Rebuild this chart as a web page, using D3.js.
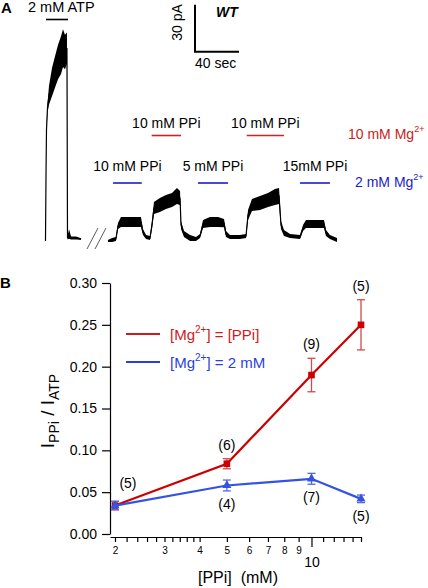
<!DOCTYPE html>
<html><head><meta charset="utf-8">
<script src="https://cdn.jsdelivr.net/npm/d3@7"></script>
<style>
html,body{margin:0;padding:0;background:#fff;}
svg{display:block;font-family:"Liberation Sans",Arial,Helvetica,sans-serif;}
text{white-space:pre;}
</style></head><body>
<svg id="chart" width="428" height="588"></svg>
<script>
// ---------- Panel A data (time in s, current in pA) ----------
const atpTime    = [5.0, 5.5, 5.9, 6.8, 8.2, 10.9, 13.6, 16.4, 19.1, 20.9, 22.7, 24.5, 25.0, 26.4, 28.2, 32.7, 37.3];
const atpCurrent = [-0.6, 44.7, 70.2, 84.2, 92.5, 100.8, 107.2, 113.6, 118, 122.5, 120, 122.5, 1.3, 3.8, 1.3, 1.3, 0.6];
const atpNoise   = [0.5, 1, 1.5, 3, 6, 9, 10, 11, 12, 12, 11, 10, 1, 3, 1, 1, 0.5];

const ppiTime = [61.8, 65.5, 69, 70.9, 73.6, 81.8, 91.8, 93.6, 96.4, 100, 101.8, 103.6, 109, 114.5, 120, 124.5, 127.3, 128.2, 130.9, 136.4, 141.8, 145.5, 148.2, 154.5, 161.8, 167.3, 169.1, 172.7, 181.8, 187.3, 189.1, 192.7, 200, 207.3, 213.6, 217.3, 219.1, 221.8, 227.3, 236.4, 239.1, 241.8, 249.1, 258.2, 260, 263.6, 270];
const ppiCurrent = [-0.6, 0, 0.6, 8.9, 11.5, 11.5, 11.5, 5.1, 1.9, 1.3, 9.6, 20.4, 22.3, 24.3, 25.5, 28.1, 26.8, 9.6, 3.8, 1.3, 0.6, 2.6, 10.2, 11.5, 11.5, 10.8, 3.8, 1.9, 1.9, 2.6, 16, 22.3, 23.6, 25.5, 27.4, 28.1, 9.6, 4.5, 2.6, 1.9, 7.7, 10.2, 10.2, 10.2, 4.5, 1.9, 0];
const ppiNoise   = [0.6, 1.3, 1.3, 1.9, 3.2, 3.2, 3.2, 1.9, 1.3, 1.3, 2.6, 3.8, 4.5, 4.5, 4.5, 5.1, 4.5, 2.6, 1.9, 1.9, 1.3, 1.3, 2.6, 3.2, 3.2, 2.6, 1.9, 1.3, 1.3, 1.3, 3.2, 3.8, 4.5, 4.5, 5.1, 5.1, 2.6, 1.9, 1.3, 1.3, 1.9, 2.6, 2.6, 2.6, 1.9, 1.3, 1.3];

const atpBar = [5.5, 25.5];
const redApps   = [{label: "10 mM PPi", t0: 101.5, t1: 128.2}, {label: "10 mM PPi", t0: 187.9, t1: 221.8}];
const blueApps  = [{label: "10 mM PPi", t0: 66.4, t1: 92.5}, {label: "5 mM PPi", t0: 143.6, t1: 170.9}, {label: "15mM PPi", t0: 236.4, t1: 263.6}];
const scaleBarTime = 40, scaleBarCurrent = 30;

// ---------- Panel B data ----------
const concPPi   = [2, 5, 10, 15];
const ratioEq   = [0.034, 0.084, 0.190, 0.250];
const errEq     = [0.005, 0.006, 0.020, 0.030];
const nEq       = ["(5)", "(6)", "(9)", "(5)"];
const ratioMg2  = [0.034, 0.058, 0.066, 0.042];
const errMg2    = [0.005, 0.0065, 0.0065, 0.0045];
const nMg2      = [null, "(4)", "(7)", "(5)"];
const yTicks    = [0, 0.05, 0.10, 0.15, 0.20, 0.25, 0.30];
const xLabeledSmall = [2, 3, 4, 5, 6, 7, 8, 9];
const xMinor    = [2.2, 2.4, 2.6, 2.8, 3.2, 3.4, 3.6, 3.8, 11, 12, 13, 14, 15];
const xMajor    = [10];

const RED = "#cc0000", RED_ERR = "#d24a4a", BLUE = "#3353e2", BLUE_ERR = "#4f6ae6";
const RED_TXT = "#cc2020", BLUE_TXT = "#1c1cc8";

const svg = d3.select("#chart");

// ================= Panel A =================
svg.append("text").attr("x", 1).attr("y", 13).attr("font-size", 15).attr("font-weight", "bold").text("A");

const xA = d3.scaleLinear().domain([0, 40]).range([40, 84]);
const yA = d3.scaleLinear().domain([0, 30]).range([240, 193]);

function drawTrace(t, I, hw) {
  const pts = t.map((d, i) => ({t: d, I: I[i], hw: hw[i]}));
  svg.append("path").datum(pts)
    .attr("d", d3.area().x(d => xA(d.t)).y0(d => yA(d.I - d.hw)).y1(d => yA(d.I + d.hw)))
    .attr("fill", "#000");
  svg.append("path").datum(pts)
    .attr("d", d3.line().x(d => xA(d.t)).y(d => yA(d.I)))
    .attr("fill", "none").attr("stroke", "#000").attr("stroke-width", 1.2);
}
drawTrace(atpTime, atpCurrent, atpNoise);
drawTrace(ppiTime, ppiCurrent, ppiNoise);

// break marks
svg.append("line").attr("x1", 87).attr("y1", 249).attr("x2", 98).attr("y2", 228).attr("stroke", "#333").attr("stroke-width", 0.8);
svg.append("line").attr("x1", 95).attr("y1", 249).attr("x2", 106).attr("y2", 228).attr("stroke", "#333").attr("stroke-width", 0.8);

// ATP bar + label
svg.append("line").attr("x1", xA(atpBar[0])).attr("x2", xA(atpBar[1])).attr("y1", 19.5).attr("y2", 19.5).attr("stroke", "#000").attr("stroke-width", 1.6);
svg.append("text").attr("x", 28).attr("y", 12).attr("font-size", 14.5).text("2 mM ATP");

// application bars
redApps.forEach(a => {
  svg.append("line").attr("x1", xA(a.t0)).attr("x2", xA(a.t1)).attr("y1", 135.5).attr("y2", 135.5).attr("stroke", "#d42020").attr("stroke-width", 1.6);
  svg.append("text").attr("x", (xA(a.t0) + xA(a.t1)) / 2).attr("y", 128).attr("text-anchor", "middle").attr("font-size", 14).text(a.label);
});
blueApps.forEach(a => {
  svg.append("line").attr("x1", xA(a.t0)).attr("x2", xA(a.t1)).attr("y1", 183).attr("y2", 183).attr("stroke", "#1c1cd0").attr("stroke-width", 1.6);
  svg.append("text").attr("x", (xA(a.t0) + xA(a.t1)) / 2).attr("y", 171).attr("text-anchor", "middle").attr("font-size", 14).text(a.label);
});

function mgLabel(x, yb, num, color) {
  const t = svg.append("text").attr("x", x).attr("y", yb).attr("font-size", 14).attr("fill", color);
  t.append("tspan").text(num + " mM Mg");
  t.append("tspan").attr("font-size", 9).attr("dy", -7).text("2+");
}
mgLabel(348, 139, "10", RED_TXT);
mgLabel(355, 187, "2", BLUE_TXT);

// scale bar
const sbX = 195, sbY = 51.7;
svg.append("path")
  .attr("d", `M${sbX},${sbY - (yA(0) - yA(scaleBarCurrent))}V${sbY}H${sbX + (xA(scaleBarTime) - xA(0))}`)
  .attr("fill", "none").attr("stroke", "#000").attr("stroke-width", 2);
svg.append("text").attr("transform", `translate(182,22.5) rotate(-90)`).attr("text-anchor", "middle").attr("font-size", 14).text("30 pA");
svg.append("text").attr("x", 195).attr("y", 68).attr("font-size", 14).text("40 sec");
svg.append("text").attr("x", 216).attr("y", 17).attr("font-size", 14).attr("font-weight", "bold").attr("font-style", "italic").text("WT");

// ================= Panel B =================
svg.append("text").attr("x", 0).attr("y", 288).attr("font-size", 15).attr("font-weight", "bold").text("B");

const x = d3.scaleLog().domain([1.92, 15]).range([110, 361]);
const y = d3.scaleLinear().domain([0, 0.30]).range([534, 283]);

const gy = svg.append("g").attr("transform", "translate(110,0)")
  .call(d3.axisLeft(y).tickValues(yTicks).tickSize(8).tickPadding(5).tickSizeOuter(0).tickFormat(d3.format(".2f")));
gy.selectAll("text").attr("font-size", 14).attr("font-family", "Liberation Sans, Arial, sans-serif").attr("fill", "#000");
gy.selectAll("line,path").attr("stroke", "#000").attr("stroke-width", 1.2);

const gx = svg.append("g").attr("transform", "translate(0,537)")
  .call(d3.axisBottom(x).tickValues(xLabeledSmall.concat(xMinor)).tickSize(5).tickPadding(5).tickSizeOuter(0)
    .tickFormat(d => xLabeledSmall.includes(d) ? String(d) : ""));
gx.selectAll("text").attr("font-size", 10).attr("font-family", "Liberation Sans, Arial, sans-serif").attr("fill", "#000");
gx.selectAll("line,path").attr("stroke", "#000").attr("stroke-width", 1.2);

const gx2 = svg.append("g").attr("transform", "translate(0,537)")
  .call(d3.axisBottom(x).tickValues(xMajor).tickSize(10).tickPadding(10).tickFormat(d3.format("d")));
gx2.select(".domain").remove();
gx2.selectAll("text").attr("font-size", 14).attr("font-family", "Liberation Sans, Arial, sans-serif").attr("fill", "#000");
gx2.selectAll("line").attr("stroke", "#000").attr("stroke-width", 1.2);

svg.append("text").attr("x", 238).attr("y", 583).attr("text-anchor", "middle").attr("font-size", 16).text("[PPi]  (mM)");

// y label
const yl = svg.append("text").attr("transform", "translate(54,411) rotate(-90)").attr("text-anchor", "middle").attr("font-size", 19);
yl.append("tspan").text("I");
yl.append("tspan").attr("font-size", 14).attr("dy", 5).text("PPi");
yl.append("tspan").attr("dy", -5).text(" / I");
yl.append("tspan").attr("font-size", 14).attr("dy", 5).text("ATP");

function series(vals, errs, lineColor, errColor, marker, labels, above) {
  const pts = concPPi.map((c, i) => ({c, v: vals[i], e: errs[i], n: labels[i]}));
  svg.append("path").datum(pts).attr("d", d3.line().x(d => x(d.c)).y(d => y(d.v)))
    .attr("fill", "none").attr("stroke", lineColor).attr("stroke-width", 2.2);
  const g = svg.append("g");
  pts.forEach(d => {
    const cx = x(d.c);
    g.append("line").attr("x1", cx).attr("x2", cx).attr("y1", y(d.v - d.e)).attr("y2", y(d.v + d.e)).attr("stroke", errColor).attr("stroke-width", 1.3);
    [d.v - d.e, d.v + d.e].forEach(v => g.append("line").attr("x1", cx - 4).attr("x2", cx + 4).attr("y1", y(v)).attr("y2", y(v)).attr("stroke", errColor).attr("stroke-width", 1.3));
    g.append("path").attr("transform", `translate(${cx},${y(d.v)})`).attr("d", d3.symbol().type(marker).size(marker === d3.symbolSquare ? 44 : 36)()).attr("fill", lineColor);
    if (d.n) {
      const lx = cx + (d.c === concPPi[0] ? 13 : 0);
      const ly = above ? y(d.v + d.e) - 9 - (d.c === concPPi[0] ? 4 : 0) : y(d.v - d.e) + 18;
      svg.append("text").attr("x", lx).attr("y", ly).attr("text-anchor", "middle").attr("font-size", 14).text(d.n);
    }
  });
}
series(ratioEq, errEq, RED, RED_ERR, d3.symbolSquare, nEq, true);
series(ratioMg2, errMg2, BLUE, BLUE_ERR, d3.symbolTriangle, nMg2, false);

// legend
function legendRow(yy, color, rest) {
  svg.append("line").attr("x1", 126).attr("x2", 160).attr("y1", yy).attr("y2", yy).attr("stroke", color).attr("stroke-width", 2.2);
  const t = svg.append("text").attr("x", 170).attr("y", yy + 6).attr("font-size", 15).attr("fill", color);
  t.append("tspan").text("[Mg");
  t.append("tspan").attr("font-size", 10).attr("dy", -7).text("2+");
  t.append("tspan").attr("dy", 7).text(rest);
}
legendRow(334, "#cc1a1a", "] = [PPi]");
legendRow(362, "#2a3fe0", "] = 2 mM");
</script></body></html>
